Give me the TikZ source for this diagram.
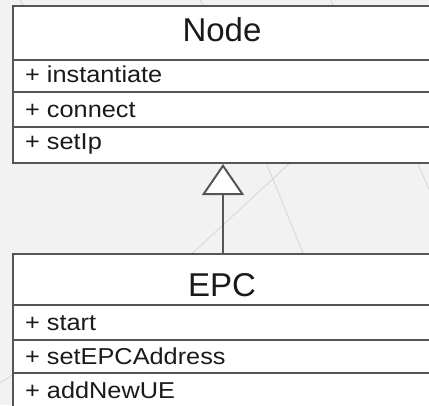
\documentclass[tikz,border=0pt]{standalone}
\usepackage{fontspec}
\setmainfont{Liberation Sans}
\newfontfamily\rowfont[FakeStretch=1.1]{Liberation Sans}
\usetikzlibrary{arrows.meta}
\definecolor{canvas}{HTML}{F2F2F2}
\definecolor{boxline}{HTML}{555555}
\definecolor{faint}{HTML}{D6D6D6}
\definecolor{ink}{HTML}{1A1A1A}
\tikzset{
  compart/.style={draw=boxline, line width=2pt, fill=white, rectangle,
    minimum width=420pt, inner sep=0pt, anchor=north west},
  titletext/.style={inner sep=0pt, anchor=base, text=ink,
    font=\fontsize{33}{38}\selectfont},
  rowtext/.style={inner sep=0pt, anchor=base west, text=ink,
    font=\rowfont\fontsize{23}{27}\selectfont},
  inherit/.style={draw=boxline, line width=2pt,
    -{Triangle[fill=white, width=42pt, length=31pt]}},
  bgline/.style={draw=faint, line width=0.8pt}
}
\begin{document}
\begin{tikzpicture}[x=1pt, y=-1pt]
  % canvas
  \fill[canvas] (0,0) rectangle (429,405);
  \useasboundingbox (0,0) rectangle (429,405);
  \begin{scope}
    \clip (0,0) rectangle (429,405);
    % faint guide lines behind the classes
    \draw[bgline] (170,274) -- (318,137);
    \draw[bgline] (258,143) -- (310,270);
    \draw[bgline] (410,145) -- (440,215);
    \draw[bgline] (0,383) -- (14,374);
    \draw[bgline] (199,-2) -- (205,8);
    \draw[bgline] (330,-2) -- (334,8);
    \draw[bgline] (18,-2) -- (26,8);

    % class Node
    \node[compart, minimum height=54pt] (nodeT) at (12,5) {};
    \node[compart, minimum height=32pt] (nodeR1) at (12,59) {};
    \node[compart, minimum height=35pt] (nodeR2) at (12,91) {};
    \node[compart, minimum height=36pt] (nodeR3) at (12,126) {};
    \node[titletext] (nodeName) at (222,41) {Node};
    \node[rowtext] (nodeOp1) at (25,82) {+ instantiate};
    \node[rowtext] (nodeOp2) at (25,117.5) {+ connect};
    \node[rowtext] (nodeOp3) at (25,149) {+ setIp};

    % class EPC
    \node[compart, minimum height=51pt] (epcT) at (12,253) {};
    \node[compart, minimum height=35pt] (epcR1) at (12,304) {};
    \node[compart, minimum height=33pt] (epcR2) at (12,339) {};
    \node[compart, minimum height=40pt] (epcR3) at (12,372) {};
    \node[titletext] (epcName) at (222,296) {EPC};
    \node[rowtext] (epcOp1) at (25,330) {+ start};
    \node[rowtext] (epcOp2) at (25,364) {+ setEPCAddress};
    \node[rowtext] (epcOp3) at (25,398) {+ addNewUE};

    % generalization
    \draw[inherit] (epcT.north) -- (nodeR3.south);
  \end{scope}
\end{tikzpicture}
\end{document}
